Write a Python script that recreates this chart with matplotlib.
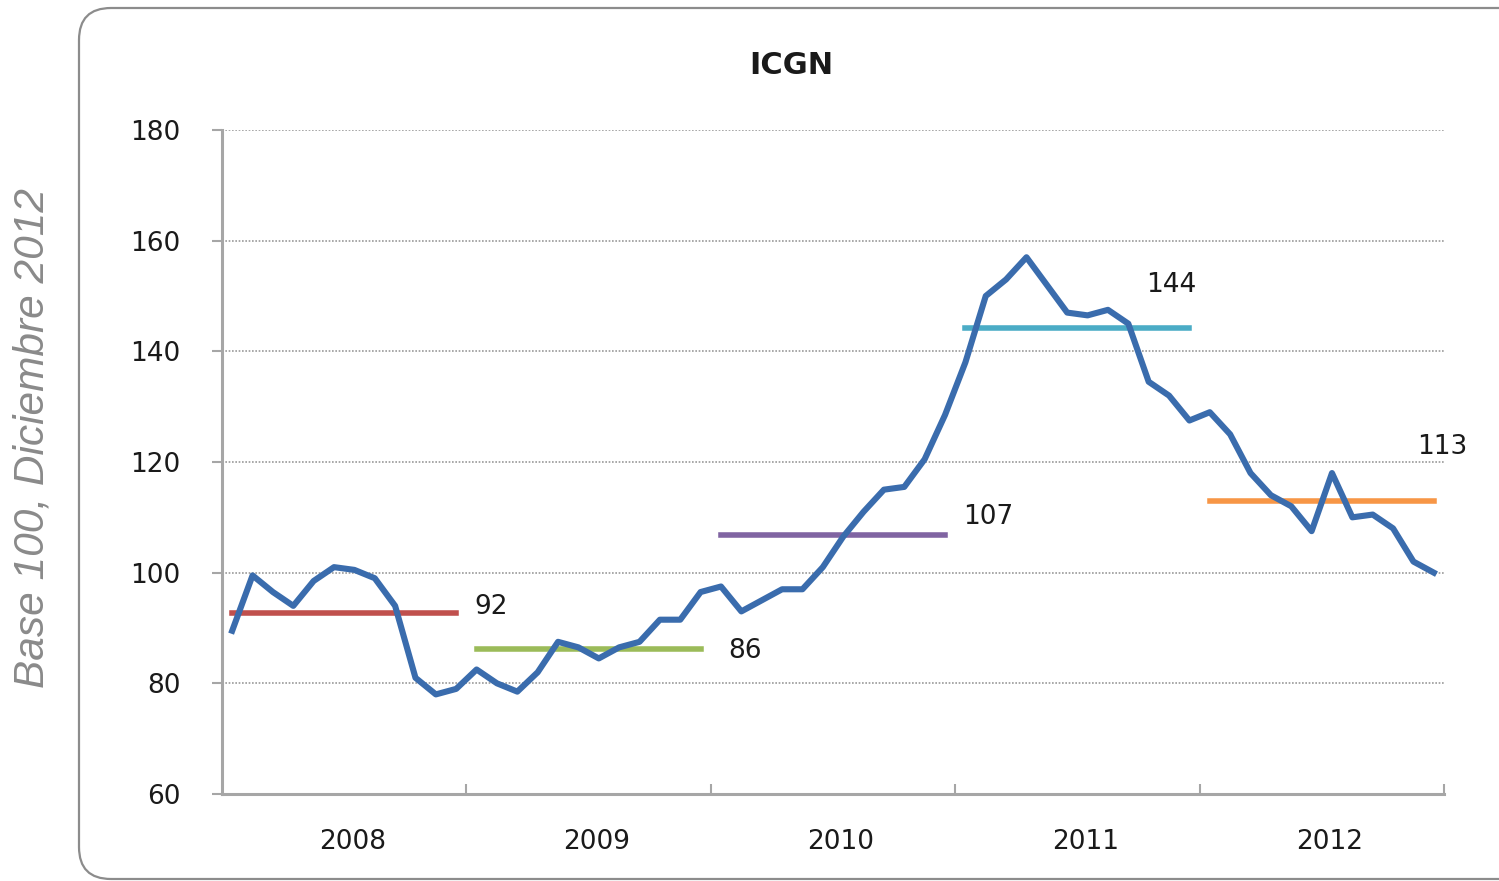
"""ICGN monthly index 2008-2012 with yearly averages (base 100, Dec 2012)."""

import matplotlib

matplotlib.use("Agg")
import matplotlib.pyplot as plt
import numpy as np
from matplotlib.patches import FancyBboxPatch
from matplotlib.transforms import IdentityTransform, ScaledTranslation

years = ["2008", "2009", "2010", "2011", "2012"]

icgn_2008 = [89.5, 99.5, 96.5, 94.0, 98.5, 101.0, 100.5, 99.0, 94.0, 81.0, 78.0, 79.0]
icgn_2009 = [82.5, 80.0, 78.5, 82.0, 87.5, 86.5, 84.5, 86.5, 87.5, 91.5, 91.5, 96.5]
icgn_2010 = [97.5, 93.0, 95.0, 97.0, 97.0, 101.0, 106.5, 111.0, 115.0, 115.5, 120.5, 128.5]
icgn_2011 = [138.0, 150.0, 153.0, 157.0, 152.0, 147.0, 146.5, 147.5, 145.0, 134.5, 132.0, 127.5]
icgn_2012 = [129.0, 125.0, 118.0, 114.0, 112.0, 107.5, 118.0, 110.0, 110.5, 108.0, 102.0, 100.0]

yearly_avg = [92.7, 86.2, 106.8, 144.2, 113.0]
avg_labels = ["92", "86", "107", "144", "113"]
avg_colors = ["#c0504d", "#9bbb59", "#8064a2", "#4bacc6", "#f79646"]

# label anchor points (month index, value), placed by hand like the original
label_pos = [(11.9, 93.8), (24.35, 85.8), (35.9, 110.1), (44.85, 152.0), (58.2, 122.7)]


def main():
    icgn = np.array(icgn_2008 + icgn_2009 + icgn_2010 + icgn_2011 + icgn_2012)
    months = np.arange(len(icgn))

    fig = plt.figure(figsize=(14.99, 8.81), dpi=100)
    ax = fig.add_axes([222 / 1499, 1 - 794 / 881, 1222 / 1499, 664 / 881])
    ax.patch.set_alpha(0)

    # rounded chart frame (pixel coordinates)
    frame = FancyBboxPatch((79, 2), 1470, 871,
                           boxstyle="round,pad=0,rounding_size=32",
                           transform=IdentityTransform(), facecolor="none",
                           edgecolor="#8c8c8c", linewidth=1.6, zorder=0)
    fig.add_artist(frame)

    for k in range(5):
        ax.hlines(yearly_avg[k], 12 * k, 12 * k + 11, color=avg_colors[k],
                  linewidth=4.0, capstyle="projecting", zorder=2)
        x, y = label_pos[k]
        ax.text(x, y, avg_labels[k], fontsize=19, color="#1a1a1a",
                ha="left", va="center", zorder=4)

    ax.plot(months, icgn, color="#3a6cad", linewidth=4.4, zorder=3,
            solid_joinstyle="round")

    ax.set_xlim(-0.5, 59.5)
    ax.set_ylim(60, 180)
    ax.set_yticks(np.arange(60, 181, 20))
    ax.yaxis.grid(True, linestyle=(0, (1, 1)), color="#9a9a9a", linewidth=1.2)
    ax.set_axisbelow(True)

    ax.set_xticks(np.arange(11.5, 60, 12))
    ax.set_xticklabels([])
    ax.set_xticks(np.arange(5.5, 60, 12), minor=True)
    ax.set_xticklabels(years, minor=True)
    ax.tick_params(axis="x", which="major", direction="in", length=7,
                   width=1.5, color="#a6a6a6")
    ax.tick_params(axis="x", which="minor", length=0, pad=25,
                   labelsize=19, labelcolor="#1a1a1a")
    ax.tick_params(axis="y", direction="out", length=7, width=1.5,
                   color="#a6a6a6", pad=23, labelsize=19, labelcolor="#1a1a1a")
    shift = ScaledTranslation(8 / 100, 0, fig.dpi_scale_trans)
    for lab in ax.xaxis.get_minorticklabels():
        lab.set_transform(lab.get_transform() + shift)

    for side in ("top", "right"):
        ax.spines[side].set_visible(False)
    for side in ("left", "bottom"):
        ax.spines[side].set_color("#a6a6a6")
        ax.spines[side].set_linewidth(2.2)

    fig.text(791 / 1499, 1 - 66 / 881, "ICGN", fontsize=22, fontweight="bold",
             ha="center", va="center", color="#1a1a1a")
    fig.text(33 / 1499, 1 - 438 / 881, "Base 100, Diciembre 2012",
             family="Liberation Sans", style="italic", fontsize=30.5,
             color="#8a8a8a", rotation=90, ha="center", va="center")

    fig.savefig("out.png", dpi=100)
    plt.close(fig)


if __name__ == "__main__":
    main()
